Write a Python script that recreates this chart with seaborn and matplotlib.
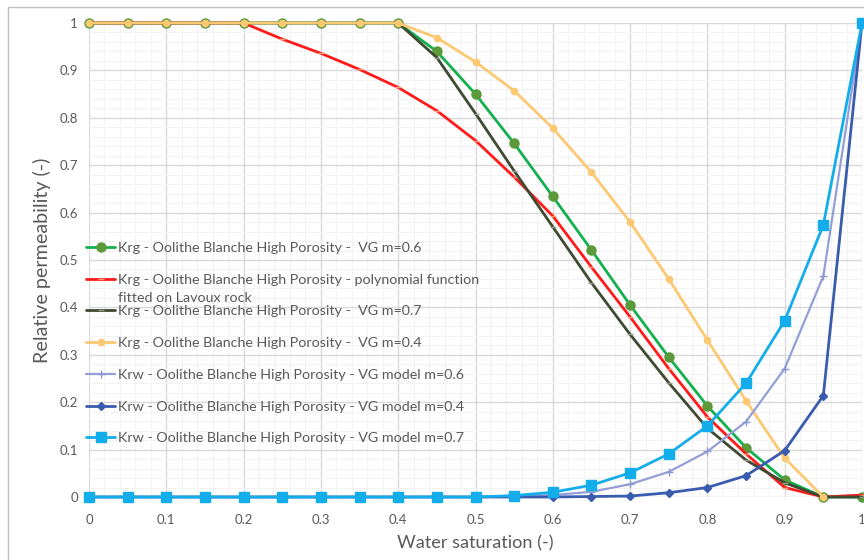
import numpy as np
import pandas as pd
import matplotlib
matplotlib.use("Agg")
import matplotlib.pyplot as plt
import seaborn as sns
from matplotlib.patches import Rectangle
from matplotlib.ticker import MultipleLocator, FixedLocator, FuncFormatter

# Water saturation steps
sw = [0.00, 0.05, 0.10, 0.15, 0.20, 0.25, 0.30, 0.35, 0.40, 0.45, 0.50,
      0.55, 0.60, 0.65, 0.70, 0.75, 0.80, 0.85, 0.90, 0.95, 1.00]

# Gas relative permeability curves
krg_vg06 = [1.000, 1.000, 1.000, 1.000, 1.000, 1.000, 1.000, 1.000, 1.000, 0.940, 0.850,
            0.746, 0.634, 0.521, 0.405, 0.295, 0.192, 0.104, 0.036, 0.000, 0.000]
krg_poly = [1.000, 1.000, 1.000, 1.000, 1.000, 0.966, 0.936, 0.902, 0.864, 0.815, 0.752,
            0.675, 0.593, 0.485, 0.380, 0.271, 0.169, 0.091, 0.020, 0.000, 0.004]
krg_vg07 = [1.000, 1.000, 1.000, 1.000, 1.000, 1.000, 1.000, 1.000, 1.000, 0.927, 0.809,
            0.688, 0.570, 0.452, 0.343, 0.241, 0.145, 0.078, 0.030, 0.000, 0.000]
krg_vg04 = [1.000, 1.000, 1.000, 1.000, 1.000, 1.000, 1.000, 1.000, 1.000, 0.969, 0.918,
            0.857, 0.778, 0.685, 0.580, 0.460, 0.331, 0.203, 0.082, 0.000, np.nan]

# Water relative permeability curves
krw_vg06 = [0.000, 0.000, 0.000, 0.000, 0.000, 0.000, 0.000, 0.000, 0.000, 0.000, 0.000,
            0.001, 0.004, 0.011, 0.027, 0.053, 0.096, 0.159, 0.271, 0.466, 1.000]
krw_vg04 = [0.000, 0.000, 0.000, 0.000, 0.000, 0.000, 0.000, 0.000, 0.000, 0.000, 0.000,
            0.000, 0.000, 0.001, 0.002, 0.009, 0.020, 0.045, 0.098, 0.214, 1.000]
krw_vg07 = [0.000, 0.000, 0.000, 0.000, 0.000, 0.000, 0.000, 0.000, 0.000, 0.000, 0.000,
            0.003, 0.010, 0.025, 0.051, 0.091, 0.150, 0.240, 0.372, 0.574, 1.000]

labels = [
    "Krg - Oolithe Blanche High Porosity -  VG m=0.6",
    "Krg - Oolithe Blanche High Porosity - polynomial function",
    "Krg - Oolithe Blanche High Porosity -  VG m=0.7",
    "Krg - Oolithe Blanche High Porosity -  VG m=0.4",
    "Krw - Oolithe Blanche High Porosity - VG model m=0.6",
    "Krw - Oolithe Blanche High Porosity - VG model m=0.4",
    "Krw - Oolithe Blanche High Porosity - VG model m=0.7",
]
label_cont = "fitted on Lavoux rock"
x_ticks = [0, 0.1, 0.2, 0.3, 0.4, 0.5, 0.6, 0.7, 0.8, 0.9, 1.0]
y_ticks = [0, 0.1, 0.2, 0.3, 0.4, 0.5, 0.6, 0.7, 0.8, 0.9, 1.0]

series = [krg_vg06, krg_poly, krg_vg07, krg_vg04, krw_vg06, krw_vg04, krw_vg07]
styles = [
    dict(color="#12b04e", marker="o", ms=6.5, mfc="#5a9a3a", mec="#5a9a3a", lw=2.0),
    dict(color="#ff1a1a", marker="_", ms=5, mfc="#ff9a7a", mec="#ff9a7a", lw=2.0),
    dict(color="#3e4a32", marker="_", ms=5, mfc="#9a9a8a", mec="#9a9a8a", lw=2.0),
    dict(color="#fcc872", marker="o", ms=4.5, mfc="#fcc872", mec="#fcc872", lw=2.0),
    dict(color="#949fd8", marker="+", ms=6, mfc="#8d9ad4", mec="#8d9ad4", lw=1.6),
    dict(color="#3a5cae", marker="D", ms=4.5, mfc="#3a5cae", mec="#3a5cae", lw=2.0),
    dict(color="#12adea", marker="s", ms=7, mfc="#12adea", mec="#12adea", lw=2.0),
]

sns.set_theme(style="white")
plt.rcParams["font.family"] = ["Lato", "DejaVu Sans"]

fig = plt.figure(figsize=(8.64, 5.6), dpi=100)
ax = fig.add_axes([89 / 864, 63 / 560, 773 / 864, 474 / 560])

for y, lab, st in zip(series, labels, styles):
    df = pd.DataFrame({"sw": sw, "kr": y})
    sns.lineplot(data=df, x="sw", y="kr", ax=ax, label=lab, color=st["color"],
                 marker=st["marker"], markersize=st["ms"], markerfacecolor=st["mfc"],
                 markeredgecolor=st["mec"], markeredgewidth=1.0, linewidth=st["lw"],
                 clip_on=False, zorder=3)

ax.set_xlim(0, 1)
ax.set_ylim(0, 1)
ax.xaxis.set_major_locator(FixedLocator(x_ticks))
ax.yaxis.set_major_locator(FixedLocator(y_ticks))
fmt = FuncFormatter(lambda v, p: f"{v:g}")
ax.xaxis.set_major_formatter(fmt)
ax.yaxis.set_major_formatter(fmt)
ax.xaxis.set_minor_locator(MultipleLocator(0.02))
ax.yaxis.set_minor_locator(MultipleLocator(0.02))
ax.grid(which="major", color="#d9d9d9", lw=1.0, zorder=0)
ax.grid(which="minor", color="#f3f3f3", lw=0.8, zorder=0)
ax.set_axisbelow(True)
for s in ax.spines.values():
    s.set_visible(False)
ax.tick_params(axis="both", which="major", length=4, color="#d9d9d9",
               labelsize=9.5, labelcolor="#595959", pad=4)
ax.tick_params(axis="x", which="major", length=0, pad=12)
ax.tick_params(which="minor", length=0)
ax.set_xlabel("Water saturation (-)", fontsize=13.1, color="#595959", labelpad=7)
ax.set_ylabel("Relative permeability (-)", fontsize=14.2, color="#595959", labelpad=6)

leg = ax.legend(loc="upper left", bbox_to_anchor=(-0.004, 0.5385), frameon=False,
                fontsize=10.3, handlelength=2.05, handletextpad=0.2,
                labelspacing=1.38, borderaxespad=0, borderpad=0)
for t in leg.get_texts():
    t.set_color("#595959")

# second line of the wrapped polynomial-fit entry
fig.canvas.draw()
bb = leg.get_texts()[1].get_window_extent()
fig.text(bb.x0 / fig.dpi / fig.get_figwidth(), (bb.y0 - 18) / fig.dpi / fig.get_figheight(),
         label_cont, fontsize=10.3, color="#595959", ha="left", va="bottom")

# chart area frame
fig.patches.append(Rectangle((8 / 864, -0.05), 1.2, 1.05 - 7 / 560,
                             transform=fig.transFigure, fill=False,
                             edgecolor="#bfbfbf", lw=1.0))

fig.savefig("out.png", dpi=100)
